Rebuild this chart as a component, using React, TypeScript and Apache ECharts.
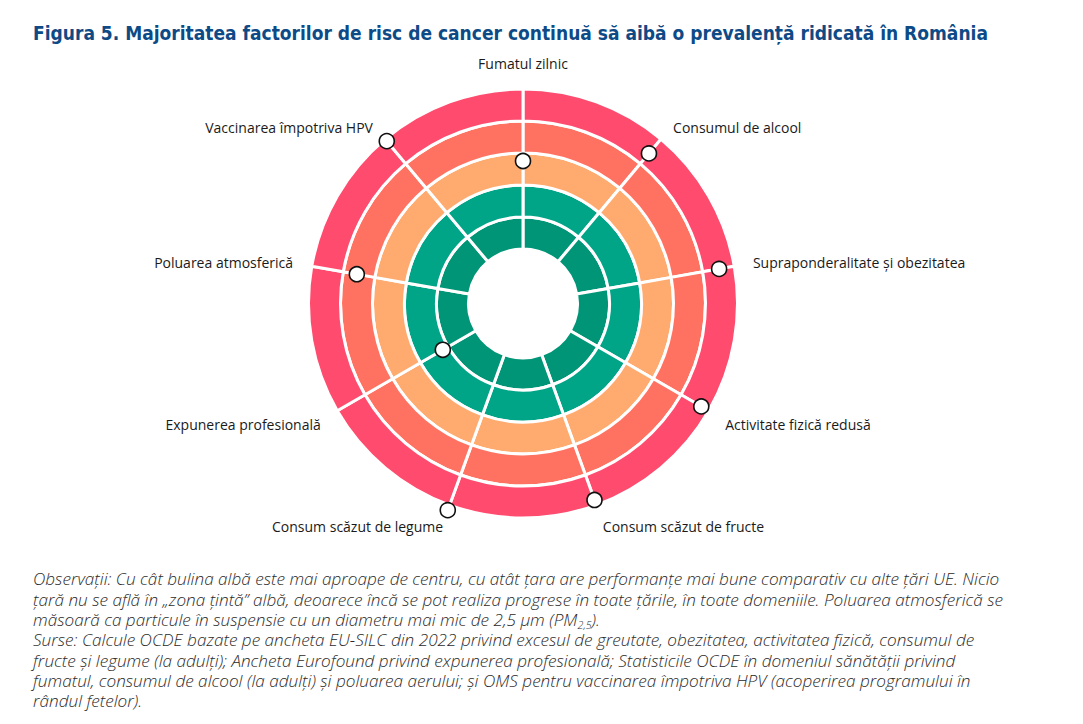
import React, { useEffect, useRef } from "react";
import * as echarts from "echarts";

const TITLE =
  "Figura 5. Majoritatea factorilor de risc de cancer continuă să aibă o prevalență ridicată în România";

const categories = [
  "Fumatul zilnic",
  "Consumul de alcool",
  "Supraponderalitate și obezitatea",
  "Activitate fizică redusă",
  "Consum scăzut de fructe",
  "Consum scăzut de legume",
  "Expunerea profesională",
  "Poluarea atmosferică",
  "Vaccinarea împotriva HPV",
];

// Position of the white dot: 0 = edge of the white target zone, 5 = outer edge
const scores = [2.75, 4.42, 4.52, 4.73, 4.83, 5.17, 1.19, 3.57, 4.92];

// Performance zones from the centre outwards (each one band wide)
const zoneNames = ["Foarte bine", "Bine", "Mediu", "Slab", "Foarte slab"];
const zoneWidths = [1, 1, 1, 1, 1];
const zoneColors = ["#009577", "#00A487", "#FFAA6E", "#FF7262", "#FF4B6E"];

const noteLines = [
  "Observații: Cu cât bulina albă este mai aproape de centru, cu atât țara are performanțe mai bune comparativ cu alte țări UE. Nicio",
  "țară nu se află în „zona țintă” albă, deoarece încă se pot realiza progrese în toate țările, în toate domeniile. Poluarea atmosferică se",
  "măsoară ca particule în suspensie cu un diametru mai mic de 2,5 µm (PM{sub|2,5}).",
  "Surse: Calcule OCDE bazate pe ancheta EU-SILC din 2022 privind excesul de greutate, obezitatea, activitatea fizică, consumul de",
  "fructe și legume (la adulți); Ancheta Eurofound privind expunerea profesională; Statisticile OCDE în domeniul sănătății privind",
  "fumatul, consumul de alcool (la adulți) și poluarea aerului; și OMS pentru vaccinarea împotriva HPV (acoperirea programului în",
  "rândul fetelor).",
];

const labelPaddings: number[][] = [
  [0, 0, 0, 0],
  [0, 0, -10, 0],
  [14, 0, 0, 0],
  [-3, 0, 0, 0],
  [-3, 0, 0, 0],
  [-3, 0, 0, 0],
  [-3, 0, 0, 0],
  [14, 0, 0, 0],
  [0, 0, -10, 0],
];

const CENTER = [515, 295.5];
const RADIUS = 214.5;
const HOLE = -1.703;

export default function App() {
  const ref = useRef<HTMLDivElement>(null);

  useEffect(() => {
    if (!ref.current) return;
    const chart = echarts.init(ref.current, null, { renderer: "svg" });

    const hiddenAxis = {
      axisLine: { show: false },
      axisTick: { show: false },
      axisLabel: { show: false },
      splitLine: { show: false },
      splitArea: { show: false },
    };

    const option: any = {
      animation: false,
      backgroundColor: "#ffffff",
      title: {
        text: TITLE,
        left: 25,
        top: 15,
        padding: 0,
        textStyle: {
          fontFamily: "'DejaVu Sans Condensed', sans-serif",
          fontWeight: "bold",
          fontSize: 19,
          color: "#0d4a86",
        },
      },
      polar: [
        { center: CENTER, radius: RADIUS },
        { center: CENTER, radius: RADIUS },
      ],
      angleAxis: [
        {
          polarIndex: 0,
          type: "category",
          data: categories,
          startAngle: 90,
          clockwise: true,
          boundaryGap: true,
          ...hiddenAxis,
        },
        {
          polarIndex: 1,
          type: "category",
          data: categories.map((c, i) => ({
            value: c,
            textStyle: { padding: labelPaddings[i] },
          })),
          startAngle: 90,
          clockwise: true,
          boundaryGap: false,
          axisLine: { show: false },
          axisTick: { show: false },
          splitLine: { show: false },
          splitArea: { show: false },
          axisLabel: {
            show: true,
            margin: 19,
            fontFamily: "'Open Sans', sans-serif",
            fontSize: 14,
            color: "#1a1a1a",
          },
        },
      ],
      radiusAxis: [
        { polarIndex: 0, type: "value", min: HOLE, max: 5, ...hiddenAxis },
        { polarIndex: 1, type: "value", min: HOLE, max: 5, ...hiddenAxis },
      ],
      series: [
        ...zoneNames.map((name, k) => ({
          name,
          type: "bar",
          coordinateSystem: "polar",
          polarIndex: 0,
          stack: "zones",
          barCategoryGap: "0%",
          silent: true,
          data: categories.map(() => zoneWidths[k]),
          itemStyle: { color: zoneColors[k], borderColor: "#ffffff", borderWidth: 3 },
        })),
        {
          name: "România",
          type: "scatter",
          coordinateSystem: "polar",
          polarIndex: 1,
          clip: false,
          symbol: "circle",
          symbolSize: 15,
          z: 5,
          data: scores.map((v, i) => [v, i]),
          itemStyle: { color: "#ffffff", borderColor: "#111111", borderWidth: 1.6, opacity: 1 },
        },
      ],
      graphic: [
        {
          type: "text",
          x: 25,
          y: 561,
          scaleX: 1.072,
          style: {
            text: noteLines.join("\n"),
            verticalAlign: "top",
            align: "left",
            fontFamily: "'Open Sans', sans-serif",
            fontStyle: "italic",
            fontWeight: 300,
            fontSize: 16,
            lineHeight: 20.3,
            fill: "#2b2b2b",
            rich: {
              sub: {
                fontFamily: "'Open Sans', sans-serif",
                fontStyle: "italic",
                fontWeight: 300,
                fontSize: 10,
                lineHeight: 20.3,
                verticalAlign: "bottom",
                fill: "#2b2b2b",
              },
            },
          },
        },
      ],
    };

    chart.setOption(option);
    return () => chart.dispose();
  }, []);

  return <div ref={ref} style={{ width: 1067, height: 708 }} />;
}
